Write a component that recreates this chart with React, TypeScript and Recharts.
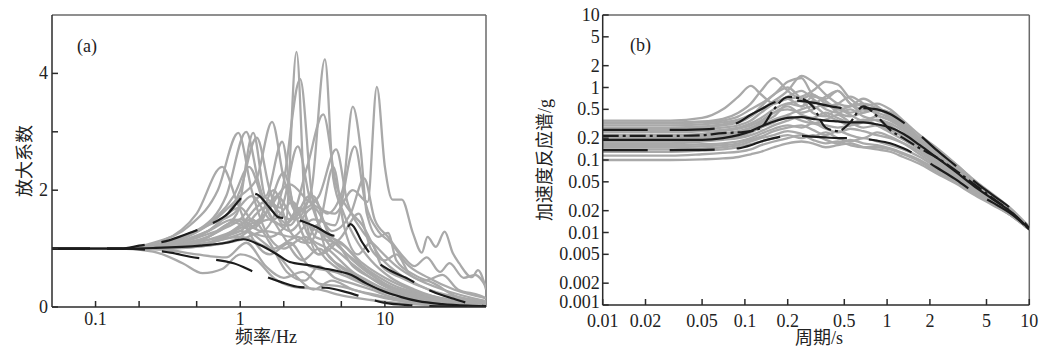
// Two-panel figure: (a) site amplification factor vs frequency, (b) acceleration response spectra.
// Grey = individual records, black = mean (solid), mean ± σ (long dash), design spectrum (dash-dot).
import { LineChart, Line, XAxis, YAxis, ReferenceLine } from 'recharts';

const AXIS = '#2b2b2b';
const FRAME = '#6a6a6a';
const GREY = '#a9a9a9';
const BLACK = '#1c1c1c';
const SERIF = '"Liberation Serif", "Times New Roman", serif';
const LABEL_FONT = '"Liberation Serif", "Noto Sans CJK SC", serif';

// ---------- (a) amplification factor ----------
const FREQ_TICKS = [0.1, 0.2, 0.5, 1, 2, 5, 10];
const FREQ_LABELS = [0.1, 1, 10];
const AMP_TICKS = [0, 1, 2, 3, 4];
const AMP_LABELS = [0, 2, 4];

// [frequency Hz, amplification]
const ampRecords: number[][][] = [
  [[0.05, 1], [0.15, 1], [0.3, 1.1], [0.6, 1.4], [0.9, 1.6], [1.2, 1.9], [1.6, 1.5], [2.05, 1.4], [2.45, 4.37], [2.85, 1.5], [3.5, 0.9], [4.5, 1.1], [6, 0.7], [8, 0.5], [12, 0.3], [20, 0.15], [50, 0.05]],
  [[0.05, 1], [0.15, 1], [0.3, 1.05], [0.6, 1.2], [1.0, 1.5], [1.4, 1.3], [1.95, 2.0], [2.6, 3.9], [3.1, 2.0], [3.8, 1.2], [5, 0.9], [7, 0.6], [10, 0.35], [15, 0.2], [50, 0.05]],
  [[0.05, 1], [0.15, 1], [0.3, 1.08], [0.6, 1.3], [1.0, 1.7], [1.3, 1.4], [1.8, 1.9], [2.4, 1.5], [3.1, 2.0], [3.85, 4.24], [4.4, 2.2], [5.2, 1.6], [6.5, 1.1], [8, 0.8], [11, 0.5], [16, 0.3], [30, 0.1], [50, 0.05]],
  [[0.05, 1], [0.15, 1], [0.3, 1.02], [0.6, 1.1], [1.0, 1.4], [1.5, 1.8], [2.2, 1.5], [2.9, 2.4], [3.75, 3.3], [4.6, 2.1], [5.5, 1.7], [7, 1.4], [9, 0.9], [12, 0.6], [18, 0.35], [30, 0.15], [50, 0.08]],
  [[0.05, 1], [0.15, 1], [0.3, 1.0], [0.6, 1.05], [1.0, 1.2], [1.5, 1.6], [2.2, 2.1], [3, 1.8], [4.5, 1.6], [6, 2.0], [7.6, 1.8], [8.8, 3.77], [10, 2.4], [11.3, 1.84], [13.1, 1.84], [15.6, 1.27], [18, 0.93], [19.7, 1.2], [22.5, 1.03], [25.9, 1.29], [29.4, 0.93], [32.6, 0.75], [40, 0.51], [44, 0.63], [50, 0.3]],
  [[0.05, 1], [0.15, 1], [0.3, 1.05], [0.6, 1.15], [1.0, 1.3], [1.5, 1.7], [2.2, 1.4], [3.0, 1.9], [4, 1.6], [5.1, 2.0], [6.0, 3.43], [6.8, 2.7], [7.5, 1.6], [9, 1.2], [10.5, 1.27], [12, 0.8], [16, 0.55], [22, 0.4], [30, 0.2], [50, 0.08]],
  [[0.05, 1], [0.15, 1], [0.3, 1.1], [0.6, 1.4], [1.0, 1.9], [1.3, 2.2], [1.66, 3.17], [2.0, 2.2], [2.5, 1.6], [3.2, 1.9], [4, 1.3], [5.5, 1.0], [7, 0.7], [10, 0.4], [15, 0.25], [30, 0.08], [50, 0.03]],
  [[0.05, 1], [0.15, 1], [0.25, 1.1], [0.45, 1.4], [0.7, 2.0], [0.97, 2.98], [1.2, 2.0], [1.5, 1.3], [2, 1.0], [2.8, 1.2], [4, 0.8], [6, 0.5], [9, 0.3], [15, 0.15], [50, 0.02]],
  [[0.05, 1], [0.15, 1], [0.3, 1.1], [0.5, 1.3], [0.8, 1.9], [1.1, 3.0], [1.35, 2.1], [1.7, 1.5], [2.3, 1.8], [3, 1.2], [4, 1.0], [6, 0.6], [9, 0.35], [14, 0.2], [50, 0.03]],
  [[0.05, 1], [0.15, 1], [0.3, 1.05], [0.6, 1.3], [1.0, 2.0], [1.3, 2.9], [1.6, 2.0], [2, 1.4], [2.6, 1.7], [3.3, 1.2], [4.5, 1.1], [6, 0.8], [8, 0.55], [12, 0.3], [20, 0.15], [50, 0.03]],
  [[0.05, 1], [0.15, 1], [0.3, 1.15], [0.5, 1.6], [0.75, 2.4], [0.95, 1.8], [1.2, 1.2], [1.6, 0.9], [2.2, 1.1], [3, 0.7], [4.5, 0.6], [7, 0.4], [10, 0.25], [20, 0.1], [50, 0.02]],
  [[0.05, 1], [0.15, 1], [0.3, 1.0], [0.6, 1.2], [0.95, 1.6], [1.23, 2.98], [1.5, 1.9], [1.95, 2.83], [2.3, 1.8], [3, 1.4], [4, 1.2], [5.5, 0.9], [8, 0.6], [12, 0.35], [20, 0.2], [50, 0.05]],
  [[0.05, 1], [0.15, 1], [0.3, 1.02], [0.6, 1.1], [1.0, 1.3], [1.6, 1.2], [2.5, 1.6], [3.5, 1.9], [4.6, 2.7], [5.5, 1.8], [7, 1.3], [9, 1.0], [12, 0.7], [16, 0.5], [25, 0.3], [50, 0.1]],
  [[0.05, 1], [0.15, 1], [0.3, 1.0], [0.6, 1.05], [1.0, 1.15], [1.5, 1.3], [2.3, 1.2], [3.2, 1.5], [4.5, 1.4], [6.2, 2.75], [7.3, 1.8], [9, 1.3], [11, 1.1], [14, 0.75], [20, 0.5], [30, 0.3], [50, 0.15]],
  [[0.05, 1], [0.15, 1], [0.3, 1.05], [0.6, 1.25], [1, 1.5], [1.4, 1.9], [1.9, 1.7], [2.5, 2.75], [3, 1.9], [3.7, 1.3], [5, 1.1], [7, 0.75], [10, 0.5], [15, 0.3], [30, 0.1], [50, 0.04]],
  [[0.05, 1], [0.15, 1], [0.25, 0.95], [0.4, 0.75], [0.55, 0.58], [0.75, 0.65], [1.0, 0.9], [1.3, 0.8], [1.7, 0.5], [2.3, 0.35], [3.5, 0.3], [5, 0.2], [8, 0.12], [15, 0.05], [50, 0.01]],
  [[0.05, 1], [0.15, 1], [0.3, 0.98], [0.5, 0.9], [0.8, 0.85], [1.1, 1.1], [1.5, 0.7], [2, 0.5], [2.7, 0.6], [3.5, 0.4], [5, 0.35], [7, 0.25], [10, 0.15], [20, 0.05], [50, 0.01]],
  [[0.05, 1], [0.15, 1], [0.3, 1.0], [0.5, 1.05], [0.8, 1.2], [1.2, 1.5], [1.6, 1.1], [2.1, 0.6], [2.8, 0.45], [3.5, 0.7], [4.5, 0.5], [6, 0.4], [8, 0.3], [12, 0.15], [50, 0.02]],
  [[0.05, 1], [0.15, 1], [0.3, 1.03], [0.6, 1.2], [0.9, 1.45], [1.3, 1.2], [1.8, 0.9], [2.5, 0.5], [3.2, 0.3], [4.3, 0.45], [6, 0.3], [9, 0.2], [15, 0.08], [50, 0.01]],
  [[0.05, 1], [0.15, 1], [0.3, 1.08], [0.55, 1.35], [0.9, 1.9], [1.15, 2.4], [1.45, 1.8], [2, 1.2], [2.7, 0.8], [3.5, 1.0], [4.8, 0.7], [6.5, 0.5], [9, 0.3], [14, 0.2], [25, 0.1], [50, 0.03]],
  [[0.05, 1], [0.15, 1], [0.3, 1.04], [0.6, 1.15], [1, 1.35], [1.5, 1.6], [2.0, 2.3], [2.4, 1.6], [3, 1.1], [3.6, 1.5], [4.4, 2.4], [5.2, 1.4], [6.5, 0.9], [8, 1.1], [9.5, 0.7], [13, 0.5], [20, 0.3], [35, 0.15], [50, 0.1]],
  [[0.05, 1], [0.15, 1], [0.3, 1.02], [0.6, 1.1], [1, 1.25], [1.6, 1.5], [2.2, 1.3], [3.2, 1.7], [4.3, 1.3], [5.8, 1.6], [7.2, 2.2], [8.5, 1.5], [10.5, 1.2], [13, 0.9], [16, 0.7], [19.5, 0.85], [24, 0.6], [28, 0.75], [35, 0.5], [42, 0.55], [50, 0.35]],
  [[0.05, 1], [0.15, 1], [0.3, 1.0], [0.6, 1.1], [1, 1.2], [1.7, 1.0], [2.5, 1.2], [3.5, 0.9], [5, 1.2], [6.6, 1.6], [8, 1.0], [10, 0.8], [12, 0.9], [15, 0.55], [19, 0.45], [25, 0.55], [32, 0.3], [45, 0.2], [50, 0.15]],
  [[0.05, 1], [0.15, 1], [0.3, 1.06], [0.6, 1.3], [0.9, 1.5], [1.25, 1.35], [1.7, 2.0], [2.2, 1.3], [2.8, 1.1], [3.4, 1.4], [4, 0.9], [5, 0.7], [7, 0.5], [10, 0.3], [16, 0.15], [30, 0.05], [50, 0.02]],
];

const ampMean = [[0.05, 1], [0.15, 1], [0.25, 1.01], [0.53, 1.05], [0.8, 1.1], [1.05, 1.16], [1.37, 1.06], [1.8, 0.9], [2.2, 0.77], [2.9, 0.72], [4.0, 0.65], [5.0, 0.6], [5.7, 0.56], [7.5, 0.4], [10, 0.26], [13, 0.17], [17, 0.1], [25, 0.05], [40, 0.02], [50, 0.01]];
const ampUpper = [[0.05, 1], [0.15, 1], [0.2, 1.05], [0.33, 1.15], [0.45, 1.27], [0.6, 1.4], [0.83, 1.61], [1.0, 1.85], [1.1, 1.96], [1.3, 1.93], [1.6, 1.7], [1.83, 1.54], [2.1, 1.52], [2.5, 1.49], [3.3, 1.38], [4.5, 1.22], [5.3, 1.3], [5.8, 1.42], [7, 1.1], [8.3, 0.84], [10.8, 0.63], [14, 0.5], [19.4, 0.31], [25, 0.2], [29, 0.15], [40, 0.05], [50, 0.01]];
const ampLower = [[0.05, 1], [0.15, 1], [0.33, 0.93], [0.45, 0.86], [0.9, 0.75], [1.3, 0.58], [1.9, 0.43], [2.6, 0.34], [3.9, 0.33], [5.5, 0.25], [7.5, 0.15], [10, 0.07], [15, 0.03], [25, 0.01], [50, 0]];

// ---------- (b) response spectra ----------
const PERIOD_TICKS = [0.01, 0.02, 0.05, 0.1, 0.2, 0.5, 1, 2, 5, 10];
const SA_TICKS = [0.001, 0.002, 0.005, 0.01, 0.02, 0.05, 0.1, 0.2, 0.5, 1, 2, 5, 10];

const PERIOD = [0.01, 0.03, 0.05, 0.07, 0.09, 0.11, 0.13, 0.16, 0.2, 0.25, 0.3, 0.37, 0.45, 0.55, 0.68, 0.85, 1.05, 1.3, 1.7, 2.2, 3, 4, 5.5, 7.5, 10];

const saRecords: number[][] = [
  [0.35, 0.35, 0.38, 0.5, 0.75, 1.05, 0.8, 0.6, 0.7, 0.55, 0.65, 0.5, 0.45, 0.5, 0.4, 0.35, 0.3, 0.22, 0.15, 0.1, 0.065, 0.042, 0.028, 0.018, 0.011],
  [0.33, 0.33, 0.34, 0.37, 0.45, 0.6, 0.9, 1.35, 0.9, 0.7, 0.8, 0.6, 0.55, 0.45, 0.5, 0.45, 0.38, 0.28, 0.19, 0.13, 0.08, 0.05, 0.032, 0.02, 0.0115],
  [0.32, 0.32, 0.33, 0.35, 0.4, 0.5, 0.6, 0.8, 1.2, 1.35, 0.8, 0.7, 0.9, 0.6, 0.5, 0.48, 0.45, 0.33, 0.2, 0.14, 0.09, 0.055, 0.034, 0.021, 0.012],
  [0.3, 0.3, 0.31, 0.33, 0.36, 0.42, 0.5, 0.65, 0.9, 1.45, 1.2, 0.8, 0.6, 0.55, 0.6, 0.52, 0.4, 0.3, 0.2, 0.13, 0.085, 0.052, 0.032, 0.02, 0.0115],
  [0.28, 0.28, 0.29, 0.31, 0.34, 0.4, 0.5, 0.6, 0.7, 0.75, 0.9, 1.2, 1.1, 0.7, 0.55, 0.6, 0.5, 0.35, 0.22, 0.15, 0.09, 0.054, 0.033, 0.02, 0.0112],
  [0.27, 0.27, 0.28, 0.3, 0.33, 0.4, 0.55, 0.8, 1.0, 0.7, 0.6, 0.75, 0.9, 0.6, 0.45, 0.5, 0.42, 0.3, 0.19, 0.12, 0.078, 0.048, 0.03, 0.019, 0.011],
  [0.25, 0.25, 0.26, 0.28, 0.3, 0.35, 0.45, 0.6, 0.75, 0.9, 0.7, 0.55, 0.6, 0.75, 0.6, 0.42, 0.35, 0.27, 0.18, 0.12, 0.075, 0.047, 0.03, 0.019, 0.011],
  [0.24, 0.24, 0.25, 0.26, 0.28, 0.32, 0.38, 0.5, 0.6, 0.55, 0.75, 0.65, 0.5, 0.55, 0.7, 0.55, 0.4, 0.28, 0.17, 0.11, 0.07, 0.045, 0.029, 0.019, 0.011],
  [0.22, 0.22, 0.23, 0.25, 0.27, 0.3, 0.35, 0.45, 0.5, 0.45, 0.5, 0.6, 0.45, 0.4, 0.45, 0.5, 0.45, 0.32, 0.2, 0.13, 0.08, 0.05, 0.031, 0.02, 0.0112],
  [0.21, 0.21, 0.22, 0.23, 0.25, 0.28, 0.33, 0.4, 0.6, 0.65, 0.45, 0.4, 0.5, 0.42, 0.35, 0.4, 0.36, 0.28, 0.19, 0.125, 0.078, 0.048, 0.03, 0.019, 0.011],
  [0.2, 0.2, 0.21, 0.22, 0.24, 0.27, 0.32, 0.45, 0.55, 0.42, 0.38, 0.45, 0.38, 0.33, 0.35, 0.3, 0.26, 0.21, 0.15, 0.1, 0.065, 0.042, 0.028, 0.018, 0.011],
  [0.19, 0.19, 0.2, 0.21, 0.23, 0.26, 0.3, 0.36, 0.42, 0.5, 0.55, 0.42, 0.35, 0.3, 0.33, 0.36, 0.32, 0.25, 0.17, 0.11, 0.07, 0.045, 0.029, 0.019, 0.011],
  [0.18, 0.18, 0.19, 0.2, 0.21, 0.24, 0.28, 0.33, 0.4, 0.35, 0.32, 0.36, 0.42, 0.33, 0.28, 0.3, 0.27, 0.22, 0.155, 0.105, 0.068, 0.044, 0.029, 0.019, 0.011],
  [0.17, 0.17, 0.18, 0.19, 0.2, 0.22, 0.25, 0.3, 0.35, 0.4, 0.33, 0.3, 0.28, 0.3, 0.36, 0.3, 0.24, 0.19, 0.14, 0.095, 0.063, 0.041, 0.027, 0.018, 0.011],
  [0.16, 0.16, 0.165, 0.17, 0.18, 0.2, 0.23, 0.27, 0.3, 0.28, 0.32, 0.27, 0.24, 0.27, 0.25, 0.22, 0.2, 0.17, 0.13, 0.09, 0.06, 0.04, 0.027, 0.018, 0.011],
  [0.15, 0.15, 0.155, 0.16, 0.17, 0.19, 0.21, 0.25, 0.28, 0.3, 0.26, 0.22, 0.25, 0.22, 0.2, 0.24, 0.21, 0.17, 0.12, 0.085, 0.057, 0.038, 0.026, 0.018, 0.011],
  [0.14, 0.14, 0.145, 0.15, 0.16, 0.18, 0.2, 0.22, 0.25, 0.23, 0.21, 0.24, 0.2, 0.18, 0.2, 0.18, 0.16, 0.14, 0.11, 0.08, 0.055, 0.037, 0.026, 0.017, 0.011],
  [0.13, 0.13, 0.135, 0.14, 0.15, 0.165, 0.18, 0.2, 0.22, 0.2, 0.22, 0.19, 0.17, 0.19, 0.17, 0.16, 0.145, 0.125, 0.1, 0.075, 0.052, 0.036, 0.025, 0.017, 0.011],
  [0.115, 0.115, 0.12, 0.125, 0.13, 0.14, 0.16, 0.18, 0.2, 0.22, 0.19, 0.17, 0.18, 0.16, 0.15, 0.15, 0.14, 0.12, 0.095, 0.07, 0.05, 0.035, 0.025, 0.017, 0.011],
  [0.1, 0.1, 0.102, 0.105, 0.11, 0.12, 0.13, 0.15, 0.17, 0.18, 0.17, 0.15, 0.16, 0.17, 0.15, 0.14, 0.13, 0.11, 0.088, 0.066, 0.048, 0.034, 0.024, 0.017, 0.011],
];
const saMean = [0.19, 0.19, 0.19, 0.2, 0.22, 0.25, 0.29, 0.34, 0.38, 0.39, 0.37, 0.35, 0.34, 0.33, 0.33, 0.31, 0.28, 0.23, 0.16, 0.11, 0.07, 0.045, 0.029, 0.019, 0.011];
const saUpper = [0.26, 0.26, 0.265, 0.28, 0.33, 0.42, 0.5, 0.62, 0.68, 0.65, 0.62, 0.57, 0.53, 0.5, 0.52, 0.5, 0.43, 0.33, 0.22, 0.14, 0.085, 0.053, 0.033, 0.021, 0.0115];
const saLower = [0.137, 0.137, 0.138, 0.14, 0.145, 0.16, 0.18, 0.2, 0.215, 0.215, 0.21, 0.205, 0.2, 0.2, 0.195, 0.185, 0.17, 0.145, 0.11, 0.08, 0.055, 0.037, 0.026, 0.018, 0.011];
const saDesign = [0.215, 0.215, 0.22, 0.235, 0.24, 0.25, 0.28, 0.5, 0.74, 0.7, 0.55, 0.28, 0.25, 0.33, 0.55, 0.4, 0.26, 0.2, 0.145, 0.11, 0.073, 0.048, 0.03, 0.019, 0.011];

const toPts = (arr: number[][]) => arr.map(([f, a]) => ({ f, a }));

const spectraRows = PERIOD.map((T, i) => {
  const row: Record<string, number> = { T, mean: saMean[i], up: saUpper[i], lo: saLower[i], des: saDesign[i] };
  saRecords.forEach((r, k) => { row[`g${k}`] = r[i]; });
  return row;
});

// ticks drawn by hand so they point inward, like the original figure.
// tickSize/tickMargin are 0, so (x, y) handed to the tick is the point on the axis line.
function xTick(labels: number[] | null, dy: number) {
  return (p: any) => {
    const v = p.payload.value;
    return (
      <g>
        <line x1={p.x} y1={p.y} x2={p.x} y2={p.y - 6} stroke={AXIS} strokeWidth={1.5} />
        {(!labels || labels.includes(v)) && (
          <text x={p.x} y={p.y + dy} textAnchor="middle" fontSize={18} fontFamily={SERIF} fill="#222">{String(v)}</text>
        )}
      </g>
    );
  };
}

function yTick(labels: number[] | null, dx: number, lift = 0) {
  return (p: any) => {
    const v = p.payload.value;
    return (
      <g>
        <line x1={p.x} y1={p.y} x2={p.x + 6} y2={p.y} stroke={AXIS} strokeWidth={1.5} />
        {(!labels || labels.includes(v)) && (
          <text x={p.x - dx} y={p.y + 6 - (v === 0.001 ? lift : 0)} textAnchor="end" fontSize={18} fontFamily={SERIF} fill="#222">{String(v)}</text>
        )}
      </g>
    );
  };
}

const axisLine = { stroke: AXIS, strokeWidth: 1.5 };

function AmpChart() {
  return (
    <LineChart width={500} height={354} margin={{ top: 15, left: 12, right: 14, bottom: 17 }}>
      <XAxis dataKey="f" type="number" scale="log" domain={[0.05, 50]} allowDataOverflow ticks={FREQ_TICKS} interval={0}
        height={30} tickSize={0} tickMargin={0} tickLine={false} axisLine={axisLine} tick={xTick(FREQ_LABELS, 18)} />
      <YAxis type="number" domain={[0, 5]} allowDataOverflow ticks={AMP_TICKS} interval={0}
        width={40} tickSize={0} tickMargin={0} tickLine={false} axisLine={axisLine} tick={yTick(AMP_LABELS, 4)} />
      <ReferenceLine y={5} stroke={FRAME} strokeWidth={1.5} />
      <ReferenceLine x={50} stroke={FRAME} strokeWidth={1.5} />
      {ampRecords.map((c, k) => (
        <Line key={k} data={toPts(c)} dataKey="a" type="monotone" stroke={GREY} strokeWidth={2.3} dot={false} isAnimationActive={false} />
      ))}
      <Line data={toPts(ampMean)} dataKey="a" type="monotone" stroke={BLACK} strokeWidth={2.2} dot={false} isAnimationActive={false} />
      <Line data={toPts(ampUpper)} dataKey="a" type="monotone" stroke={BLACK} strokeWidth={2.2} strokeDasharray="38 17" dot={false} isAnimationActive={false} />
      <Line data={toPts(ampLower)} dataKey="a" type="monotone" stroke={BLACK} strokeWidth={2.2} strokeDasharray="38 17" dot={false} isAnimationActive={false} />
    </LineChart>
  );
}

function SpectraChart() {
  return (
    <LineChart width={526} height={354} data={spectraRows} margin={{ top: 15, left: 42.7, right: 16.7, bottom: 19 }}>
      <XAxis dataKey="T" type="number" scale="log" domain={[0.01, 10]} allowDataOverflow ticks={PERIOD_TICKS} interval={0}
        height={30} tickSize={0} tickMargin={0} tickLine={false} axisLine={axisLine} tick={xTick(null, 22)} />
      <YAxis type="number" scale="log" domain={[0.001, 10]} allowDataOverflow ticks={SA_TICKS} interval={0}
        width={40} tickSize={0} tickMargin={0} tickLine={false} axisLine={axisLine} tick={yTick(null, 3, 3)} />
      <ReferenceLine y={10} stroke={FRAME} strokeWidth={1.5} />
      <ReferenceLine x={10} stroke={FRAME} strokeWidth={1.5} />
      {saRecords.map((_, k) => (
        <Line key={k} dataKey={`g${k}`} type="monotone" stroke={GREY} strokeWidth={2.3} dot={false} isAnimationActive={false} />
      ))}
      <Line dataKey="mean" type="monotone" stroke={BLACK} strokeWidth={2.2} dot={false} isAnimationActive={false} />
      <Line dataKey="up" type="monotone" stroke={BLACK} strokeWidth={2.2} strokeDasharray="45 22" dot={false} isAnimationActive={false} />
      <Line dataKey="lo" type="monotone" stroke={BLACK} strokeWidth={2.2} strokeDasharray="45 22" dot={false} isAnimationActive={false} />
      <Line dataKey="des" type="monotone" stroke={BLACK} strokeWidth={2.2} strokeDasharray="16 4 3 4" dot={false} isAnimationActive={false} />
    </LineChart>
  );
}

const txt = { position: 'absolute' as const, fontFamily: LABEL_FONT, fontSize: 18, color: '#222', whiteSpace: 'nowrap' as const, lineHeight: '18px' };

export default function App() {
  return (
    <div style={{ position: 'absolute', left: 0, top: 0, width: 1046, height: 354, background: '#fff', overflow: 'hidden' }}>
      <div style={{ position: 'absolute', left: 0, top: 0 }}><AmpChart /></div>
      <div style={{ position: 'absolute', left: 520, top: 0 }}><SpectraChart /></div>

      <div style={{ ...txt, left: 77, top: 37, fontFamily: SERIF }}>(a)</div>
      <div style={{ ...txt, left: 630, top: 36, fontFamily: SERIF }}>(b)</div>

      <div style={{ ...txt, left: 25, top: 161, transform: 'translate(-50%, -50%) rotate(-90deg)' }}>放大系数</div>
      <div style={{ ...txt, left: 266, top: 337, transform: 'translate(-50%, -50%)' }}>频率/Hz</div>

      <div style={{ ...txt, left: 545, top: 160, transform: 'translate(-50%, -50%) rotate(-90deg)' }}>加速度反应谱/g</div>
      <div style={{ ...txt, left: 819, top: 338, transform: 'translate(-50%, -50%)' }}>周期/s</div>
    </div>
  );
}
